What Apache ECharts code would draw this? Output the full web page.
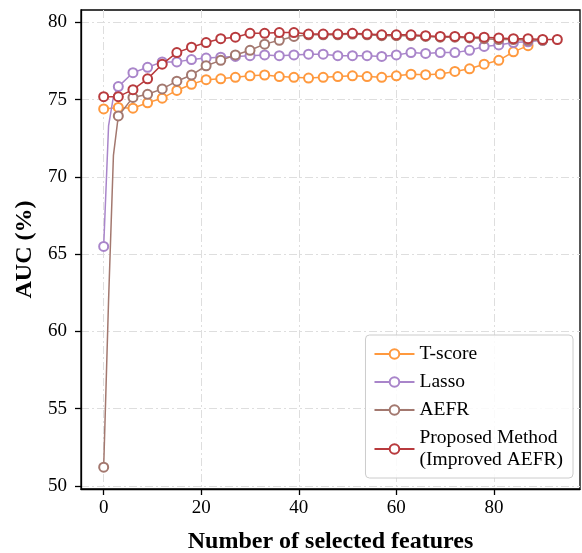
<!DOCTYPE html>
<html>
<head>
<meta charset="utf-8">
<script src="https://cdn.jsdelivr.net/npm/echarts@6/dist/echarts.min.js"></script>
<style>
  html, body { margin: 0; padding: 0; background: #fff; }
  #chart { width: 582px; height: 553px; }
</style>
</head>
<body>
<div id="chart"></div>
<script>
// x positions where markers are drawn (every 3 features)
var featureCounts = [0, 3, 6, 9, 12, 15, 18, 21, 24, 27, 30, 33, 36, 39, 42, 45,
    48, 51, 54, 57, 60, 63, 66, 69, 72, 75, 78, 81, 84, 87, 90, 93];

var tscore = [74.4, 74.5, 74.45, 74.8, 75.1, 75.6, 76.0, 76.3, 76.35, 76.45, 76.55, 76.6,
    76.5, 76.45, 76.4, 76.45, 76.5, 76.55, 76.5, 76.45, 76.55, 76.65, 76.62, 76.66,
    76.83, 77.0, 77.3, 77.55, 78.1, 78.5];
var lasso = [65.5, 75.85, 76.75, 77.1, 77.45, 77.45, 77.6, 77.7, 77.75, 77.8, 77.85, 77.9,
    77.85, 77.9, 77.95, 77.95, 77.85, 77.85, 77.85, 77.8, 77.9, 78.05, 78.0, 78.05,
    78.05, 78.2, 78.45, 78.55, 78.7, 78.75, 78.85];
var aefr = [51.2, 73.95, 75.15, 75.35, 75.7, 76.2, 76.6, 77.2, 77.55, 77.9, 78.2, 78.6,
    78.85, 79.1, 79.2, 79.2, 79.2, 79.25, 79.2, 79.15, 79.15, 79.15, 79.1, 79.05,
    79.05, 79.0, 78.95, 78.9, 78.9, 78.85, 78.85];
var proposed = [75.2, 75.2, 75.65, 76.35, 77.3, 78.05, 78.4, 78.7, 78.95, 79.05, 79.3, 79.3,
    79.35, 79.35, 79.25, 79.25, 79.25, 79.3, 79.25, 79.2, 79.2, 79.2, 79.15, 79.1,
    79.1, 79.05, 79.05, 79.0, 78.95, 78.95, 78.9, 78.9];

// unmarked points on the steep first rise (line only)
var lassoStart = [[1, 73.3], [2, 75.2]];
var aefrStart = [[1, 62.0], [2, 71.4]];

var xTicks = [0, 20, 40, 60, 80];
var yTicks = [50, 55, 60, 65, 70, 75, 80];

var names = ['T-score', 'Lasso', 'AEFR', 'Proposed Method\n(Improved AEFR)'];
var colors = ['#ff993e', '#a985ca', '#a3786f', '#b83a3d'];

function buildData(values, extra) {
    var out = [];
    for (var i = 0; i < values.length; i++) {
        out.push([featureCounts[i], values[i]]);
        if (i == 0 && extra) {
            extra.forEach(function (p) {
                out.push({ value: p, symbol: 'none' });
            });
        }
    }
    return out;
}

var font = 'Liberation Serif';
var gridLine = { show: true, lineStyle: { color: '#dedede', width: 1, type: [8, 3, 2, 3] } };

var chart = echarts.init(document.getElementById('chart'), null, { renderer: 'canvas' });

var seriesValues = [buildData(tscore), buildData(lasso, lassoStart), buildData(aefr, aefrStart), buildData(proposed)];

var option = {
    animation: false,
    color: colors,
    grid: {
        left: 81, right: 2, top: 10, bottom: 64,
        outerBoundsMode: 'none',
        containLabel: false,
        show: true, borderColor: '#000', borderWidth: 1.3, backgroundColor: 'transparent'
    },
    legend: {
        orient: 'vertical',
        right: 9, bottom: 75,
        padding: [8, 10, 7, 8],
        itemWidth: 40, itemHeight: 12, itemGap: 6,
        backgroundColor: 'rgba(255,255,255,0.85)',
        borderColor: '#cccccc', borderWidth: 1, borderRadius: 4,
        textStyle: { fontFamily: font, fontSize: 19.5, color: '#000', lineHeight: 22 },
        data: names
    },
    xAxis: {
        type: 'value',
        min: -4.65, max: 97.65,
        name: 'Number of selected features',
        nameLocation: 'middle', nameGap: 41,
        nameTextStyle: { fontFamily: font, fontSize: 24, fontWeight: 'bold', color: '#000' },
        axisLine: { show: true, onZero: false, lineStyle: { color: '#000', width: 1.3 } },
        axisTick: { show: true, inside: false, length: 6, customValues: xTicks, lineStyle: { color: '#000', width: 1.3 } },
        axisLabel: { customValues: xTicks, fontFamily: font, fontSize: 19, color: '#000', margin: 10 },
        splitLine: gridLine
    },
    yAxis: {
        type: 'value',
        min: 49.79, max: 80.81,
        name: 'AUC (%)',
        nameLocation: 'middle', nameGap: 40, nameRotate: 90,
        nameTextStyle: { fontFamily: font, fontSize: 24, fontWeight: 'bold', color: '#000' },
        axisLine: { show: true, onZero: false, lineStyle: { color: '#000', width: 1.3 } },
        axisTick: { show: true, inside: false, length: 6, customValues: yTicks, lineStyle: { color: '#000', width: 1.3 } },
        axisLabel: { customValues: yTicks, fontFamily: font, fontSize: 19, color: '#000', margin: 14 },
        splitLine: gridLine
    },
    series: names.map(function (n, k) {
        return {
            name: n,
            type: 'line',
            data: seriesValues[k],
            symbol: 'emptyCircle',
            symbolSize: 9,
            showAllSymbol: true,
            lineStyle: { width: 1.5, color: colors[k] },
            itemStyle: { color: colors[k], borderWidth: 2 },
            z: 2 + k
        };
    })
};

chart.setOption(option);
</script>
</body>
</html>
